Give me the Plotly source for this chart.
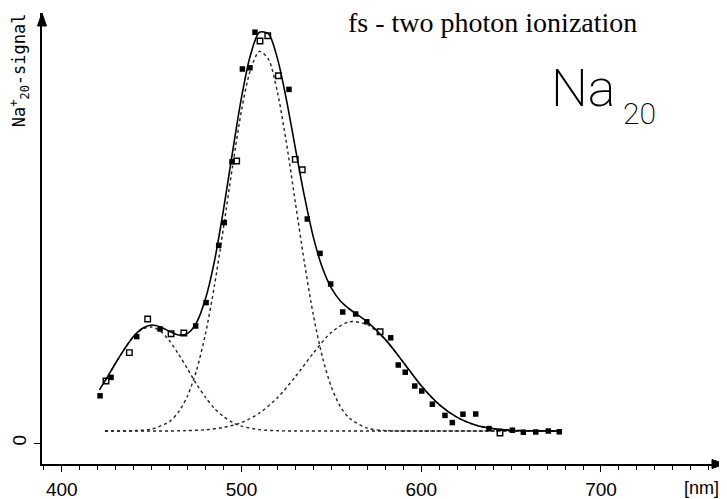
import plotly.graph_objects as go

# ---- data (wavelength in nm, signal in arbitrary units) ----
filled_x = [421.3, 427.4, 441.7, 454.7, 474.5, 480.3, 487.3, 490.4, 494.7, 500.5, 504.7, 507.5,
            526.4, 536.6, 543.7, 549.6, 556.3, 563.5, 569.7, 583.0, 587.2, 591.1, 596.4, 600.3,
            606.2, 613.2, 617.3, 623.2, 630.3, 637.7, 650.7, 656.8, 663.7, 670.7, 676.8]
filled_y = [11.8, 16.4, 26.6, 28.5, 29.25, 35.1, 49.4, 55.1, 70.3, 93.5, 93.8, 102.7,
            88.4, 56.0, 47.4, 39.75, 32.75, 32.25, 30.3, 26.3, 19.5, 17.7, 14.25, 13.0,
            9.7, 6.9, 5.1, 7.2, 7.25, 3.6, 3.2, 2.7, 2.75, 3.0, 2.8]
open_x = [424.6, 437.6, 447.8, 460.8, 467.9, 497.3, 510.3, 514.6, 520.5, 529.9, 533.8, 577.1, 643.8]
open_y = [15.5, 22.6, 31.0, 27.3, 27.5, 70.5, 100.5, 101.8, 91.8, 70.9, 68.3, 27.8, 2.5]

fit_x = [421, 425, 430, 435, 440, 445, 450, 455, 460, 465, 470, 475, 480, 485, 490, 495, 500,
         505, 510, 515, 520, 525, 530, 535, 540, 545, 550, 555, 560, 570, 580, 590, 600, 610,
         620, 630, 640, 650, 660, 670, 678]
fit_y = [13.3, 16.2, 20.0, 23.6, 26.7, 28.7, 29.5, 29.0, 27.9, 27.0, 27.4, 30.1, 36.1, 45.6,
         58.4, 72.7, 86.4, 97.0, 102.7, 102.3, 96.1, 85.8, 73.6, 61.7, 51.4, 43.8, 38.7, 35.5,
         33.5, 30.3, 25.9, 20.2, 14.3, 9.6, 6.4, 4.5, 3.6, 3.2, 3.06, 3.0, 3.0]

g1_x = [424, 430, 435, 440, 445, 450, 455, 460, 465, 470, 475, 480, 485, 490, 495, 500, 510,
        520, 530, 560, 600, 640, 678]
g1_y = [15.5, 20.0, 23.6, 26.6, 28.5, 29.0, 27.9, 25.5, 22.2, 18.5, 14.7, 11.4, 8.6, 6.6, 5.15,
        4.2, 3.33, 3.07, 3.0, 3.0, 3.0, 3.0, 3.0]

g2_x = [424, 440, 450, 460, 465, 470, 475, 480, 485, 490, 495, 500, 505, 510, 515, 520, 525,
        530, 535, 540, 545, 550, 555, 560, 570, 580, 600, 640, 678]
g2_y = [3.0, 3.08, 3.5, 5.4, 7.8, 11.8, 18.2, 27.4, 39.5, 53.9, 69.1, 83.1, 93.3, 97.9, 95.9,
        87.7, 75.0, 60.0, 45.1, 31.9, 21.5, 14.0, 9.1, 6.2, 3.7, 3.1, 3.0, 3.0, 3.0]

g3_x = [424, 460, 470, 480, 490, 500, 510, 520, 530, 540, 550, 560, 570, 580, 590, 600, 610,
        620, 630, 640, 650, 660, 678]
g3_y = [3.0, 3.0, 3.1, 3.3, 3.9, 5.1, 7.5, 11.3, 16.6, 22.5, 27.7, 30.3, 29.6, 25.8, 20.2,
        14.3, 9.6, 6.4, 4.5, 3.6, 3.2, 3.06, 3.0]

x_tickvals = [400, 500, 600, 700]
x_ticktext = ["400", "500", "600", "700"]
y_tickvals = [0]
y_ticktext = ["0"]

# ---- figure ----
fig = go.Figure()

dot_line = dict(color="#222222", width=1.4, dash="dot", shape="spline", smoothing=0.8)
for gx, gy in ((g1_x, g1_y), (g2_x, g2_y), (g3_x, g3_y)):
    fig.add_trace(go.Scatter(x=gx, y=gy, mode="lines", line=dot_line,
                             showlegend=False, hoverinfo="skip"))

fig.add_trace(go.Scatter(x=fit_x, y=fit_y, mode="lines",
                         line=dict(color="black", width=1.6, shape="spline", smoothing=0.8),
                         showlegend=False))
fig.add_trace(go.Scatter(x=filled_x, y=filled_y, mode="markers",
                         marker=dict(symbol="square", size=5.5, color="black"),
                         showlegend=False))
fig.add_trace(go.Scatter(x=open_x, y=open_y, mode="markers",
                         marker=dict(symbol="square-open", size=5.5, color="black",
                                     line=dict(width=1.4, color="black")),
                         showlegend=False))

# the page body has an 8 px margin, so the figure is sized to end at the window edge
fig.update_layout(
    width=719, height=491,
    template="none",
    paper_bgcolor="white", plot_bgcolor="white",
    margin=dict(l=34, r=2, t=5, b=35),
    showlegend=False,
    xaxis=dict(range=[389.0, 769.0], showgrid=False, zeroline=False,
               showline=True, linecolor="black", linewidth=1.5,
               tickvals=x_tickvals, ticktext=x_ticktext,
               ticks="outside", ticklen=6, tickwidth=1.3, tickcolor="black",
               ticklabelstandoff=1,
               minor=dict(dtick=10, tick0=400, ticks="outside", ticklen=4,
                          tickwidth=1.1, tickcolor="black", showgrid=False),
               tickfont=dict(family="Liberation Sans", size=19, color="black"),
               automargin=False),
    yaxis=dict(range=[-5.25, 107.5], showgrid=False, zeroline=False,
               showline=True, linecolor="black", linewidth=1.5,
               tickvals=y_tickvals, ticktext=y_ticktext, tickangle=-90,
               ticks="outside", ticklen=6, tickwidth=1.3, tickcolor="black",
               ticklabelstandoff=1,
               tickfont=dict(family="Liberation Sans", size=19, color="black"),
               automargin=False),
)

# axis arrowheads (filled triangles in paper coordinates)
ax_len, ax_half = 13 / 683, 4.5 / 451
ay_len, ay_half = 13 / 451, 4.5 / 683
fig.add_shape(type="path", xref="paper", yref="paper", layer="above",
              path=f"M 1 0 L {1 - ax_len} {ax_half} L {1 - ax_len} {-ax_half} Z",
              fillcolor="black", line=dict(color="black", width=1))
fig.add_shape(type="path", xref="paper", yref="paper", layer="above",
              path=f"M 0 1 L {ay_half} {1 - ay_len} L {-ay_half} {1 - ay_len} Z",
              fillcolor="black", line=dict(color="black", width=1))

# texts
fig.add_annotation(xref="paper", yref="paper", x=0.6589, y=0.978,
                   xanchor="center", yanchor="middle", showarrow=False,
                   text="fs - two photon ionization",
                   font=dict(family="Liberation Serif", size=28, color="black"))
fig.add_annotation(xref="paper", yref="paper", x=0.742, y=0.833,
                   xanchor="left", yanchor="middle", showarrow=False,
                   text="Na",
                   font=dict(family="Roboto", size=52, color="black", weight=200))
fig.add_annotation(xref="paper", yref="paper", x=0.8475, y=0.777,
                   xanchor="left", yanchor="middle", showarrow=False,
                   text="20",
                   font=dict(family="Roboto", size=30, color="black", weight=200))
fig.add_annotation(xref="paper", yref="paper", x=0.9649, y=-0.053,
                   xanchor="center", yanchor="middle", showarrow=False,
                   text="[nm]",
                   font=dict(family="Liberation Sans", size=18, color="black"))
fig.add_annotation(xref="paper", yref="paper", x=-0.0335, y=0.8736,
                   xanchor="center", yanchor="middle", showarrow=False,
                   textangle=-90,
                   text="Na<sup>+</sup><sub>20</sub>-signal",
                   font=dict(family="DejaVu Sans Mono", size=17, color="black"))

fig.write_html("out.html")
